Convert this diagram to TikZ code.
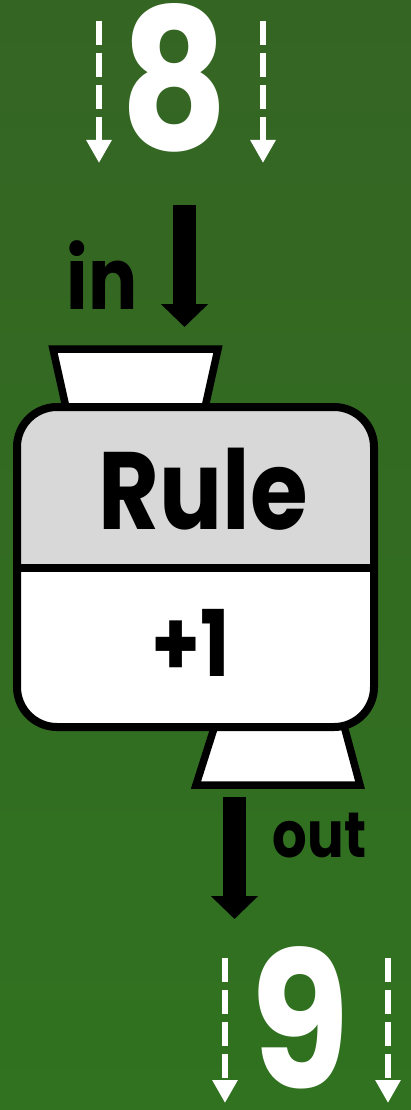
\documentclass[tikz,border=0pt]{standalone}
\usepackage{fontspec}
\setmainfont{Poppins}[FakeStretch=0.85]
\usetikzlibrary{arrows.meta}

\definecolor{bgtop}{RGB}{53,101,35}
\definecolor{bgbot}{RGB}{48,114,32}
\definecolor{rulegrey}{RGB}{216,216,216}

\tikzset{
  dashdown/.style={white, line width=6.5pt, dash pattern=on 24pt off 8pt, -{Triangle[width=24pt,length=23pt]}},
  flowdown/.style={black, line width=23pt, -{Triangle[width=46pt,length=23pt]}},
  hopper/.style={draw=black, fill=white, line width=7.5pt, line join=miter},
  word/.style={inner sep=0pt, anchor=base},
}

\begin{document}
\begin{tikzpicture}[x=1pt, y=-1pt]
\useasboundingbox (0,0) rectangle (411,1110);
\shade [top color=bgtop, bottom color=bgbot] (0,0) rectangle (411,1110);

% value coming in
\node [word, white, font=\bfseries\fontsize{196}{196}\selectfont] (eight) at (174.5,150) {8};
\coordinate (dinLa) at (99,21);  \coordinate (dinLb) at (99,163);
\coordinate (dinRa) at (263,21); \coordinate (dinRb) at (263,163);
\draw [dashdown] (dinLa) -- (dinLb);
\draw [dashdown] (dinRa) -- (dinRb);

\node [word, font=\bfseries\fontsize{86}{86}\selectfont] (inlabel) at (102,309) {in};
\coordinate (inTop) at (184.5,205); \coordinate (inTip) at (184.5,327);
\draw [flowdown] (inTop) -- (inTip);

% hoppers
\draw [hopper] (53,349) -- (218,349) -- (204,412) -- (67,412) -- cycle;
\draw [hopper] (216,722) -- (343,722) -- (360,785) -- (196,785) -- cycle;

% the rule box
\fill [white, rounded corners=40pt] (17,407) rectangle (374,727);
\begin{scope}
  \clip [rounded corners=40pt] (17,407) rectangle (374,727);
  \fill [rulegrey] (17,407) rectangle (374,568);
\end{scope}
\draw [line width=8pt] (17,568) -- (374,568);
\draw [line width=8pt, rounded corners=40pt] (17,407) rectangle (374,727);

\node [word, font=\bfseries\fontsize{110}{110}\selectfont] (rulename) at (203.5,529) {Rule};
\node [word, font=\bfseries\fontsize{92}{92}\selectfont] (ruleop) at (190.5,676) {+1};

% value going out
\coordinate (outTop) at (234.5,797); \coordinate (outTip) at (234.5,919);
\draw [flowdown] (outTop) -- (outTip);
\node [word, font=\bfseries\fontsize{64}{64}\selectfont] (outlabel) at (319.5,857) {out};

\node [word, white, font=\bfseries\fontsize{190}{190}\selectfont] (nine) at (300.5,1088) {9};
\coordinate (doutLa) at (225,958); \coordinate (doutLb) at (225,1103);
\coordinate (doutRa) at (388,958); \coordinate (doutRb) at (388,1103);
\draw [dashdown] (doutLa) -- (doutLb);
\draw [dashdown] (doutRa) -- (doutRb);

\end{tikzpicture}
\end{document}
